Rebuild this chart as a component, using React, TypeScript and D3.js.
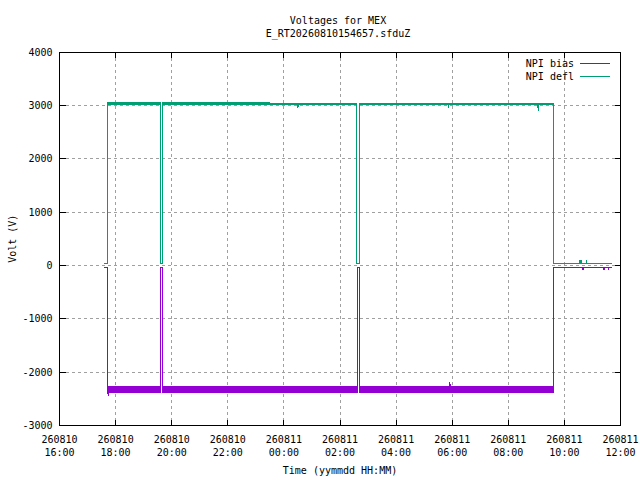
import React from 'react';
import * as d3 from 'd3';

// time stamps are yymmdd HH:MM, values in volts
const biasTime = [
  '260810 17:35', '260810 17:43', '260810 17:43', '260810 17:44', '260810 17:45',
  '260810 19:36', '260810 19:36', '260810 19:40', '260810 19:40',
  '260811 02:37', '260811 02:37', '260811 02:41', '260811 02:41',
  '260811 05:54', '260811 05:55', '260811 05:56',
  '260811 09:36', '260811 09:36',
  '260811 10:39', '260811 10:40', '260811 10:41',
  '260811 11:24', '260811 11:25', '260811 11:26',
  '260811 11:33', '260811 11:34', '260811 11:35', '260811 11:41',
];
const biasLow = [
  -43, -43, -2300, -2449, -2374,
  -2374, -43, -43, -2374,
  -2374, -43, -43, -2374,
  -2374, -2374, -2374,
  -2374, -43,
  -43, -88, -43,
  -43, -88, -43,
  -43, -88, -43, -43,
];
const biasHigh = [
  -43, -43, -2268, -2268, -2268,
  -2268, -43, -43, -2268,
  -2268, -43, -43, -2268,
  -2268, -2193, -2268,
  -2268, -43,
  -43, -43, -43,
  -43, -43, -43,
  -43, -43, -43, -43,
];

const deflTime = [
  '260810 17:35', '260810 17:43', '260810 17:43',
  '260810 19:35', '260810 19:35', '260810 19:37', '260810 19:37', '260810 19:40', '260810 19:40',
  '260810 23:30', '260810 23:31',
  '260811 00:29', '260811 00:30', '260811 00:31',
  '260811 02:36', '260811 02:36', '260811 02:41', '260811 02:41',
  '260811 05:51', '260811 05:52', '260811 05:53',
  '260811 09:03', '260811 09:04', '260811 09:05',
  '260811 09:36', '260811 09:36',
  '260811 10:33', '260811 10:33', '260811 10:37', '260811 10:37',
  '260811 10:46', '260811 10:47', '260811 10:48', '260811 11:41',
];
const deflLow = [
  32, 32, 3010,
  3010, 206, 206, 32, 32, 3010,
  3010, 3025,
  3025, 2961, 3025,
  3025, 32, 32, 3025,
  3025, 2961, 3025,
  3025, 2892, 3025,
  3025, 32,
  32, 32, 32, 32,
  32, 32, 32, 32,
];
const deflHigh = [
  32, 32, 3045,
  3045, 206, 206, 32, 32, 3045,
  3045, 3040,
  3040, 3040, 3040,
  3040, 32, 32, 3040,
  3040, 3040, 3040,
  3040, 3040, 3040,
  3040, 32,
  32, 94, 94, 32,
  32, 94, 32, 32,
];

const yTicks = [-3000, -2000, -1000, 0, 1000, 2000, 3000, 4000];
const xTickDates = [
  '260810 16:00', '260810 18:00', '260810 20:00', '260810 22:00', '260811 00:00', '260811 02:00',
  '260811 04:00', '260811 06:00', '260811 08:00', '260811 10:00', '260811 12:00',
];

const seriesNames = ['NPI bias', 'NPI defl'];
const seriesColors = ['#9400d3', '#009e73'];

const parse = d3.timeParse('%y%m%d %H:%M');
const font = '"DejaVu Sans Mono", monospace';

const App: React.FC = () => {
  const width = 640;
  const height = 480;
  const left = 59.5;
  const right = 620.5;
  const top = 52;
  const bottom = 425.5;

  const x = d3.scaleTime()
    .domain([parse(xTickDates[0])!, parse(xTickDates[xTickDates.length - 1])!])
    .range([left, right]);
  const y = d3.scaleLinear().domain([-3000, 4000]).range([bottom, top]);

  const makeSeries = (times: string[], lo: number[], hi: number[]) =>
    times.map((t, i) => ({ t: parse(t)!, lo: lo[i], hi: hi[i] }));

  const series = [
    makeSeries(biasTime, biasLow, biasHigh),
    makeSeries(deflTime, deflLow, deflHigh),
  ];

  type P = { t: Date; lo: number; hi: number };
  const area = d3.area<P>().x((d) => x(d.t)).y0((d) => y(d.lo)).y1((d) => y(d.hi));
  const lineLo = d3.line<P>().x((d) => x(d.t)).y((d) => y(d.lo));
  const lineHi = d3.line<P>().x((d) => x(d.t)).y((d) => y(d.hi));

  const xTicks = xTickDates.map((s) => parse(s)!);
  const fmtDay = d3.timeFormat('%y%m%d');
  const fmtHour = d3.timeFormat('%H:%M');
  const tickLen = 6;

  return (
    <div style={{ position: 'fixed', left: 0, top: 0 }}>
      <svg width={width} height={height} style={{ display: 'block', background: '#fff' }}>
        {/* grid */}
        <g stroke="#a0a0a0" strokeDasharray="3,3" shapeRendering="crispEdges">
          {yTicks.slice(1, -1).map((v) => (
            <line key={'gy' + v} x1={left} x2={right} y1={y(v)} y2={y(v)} />
          ))}
          {xTicks.slice(1, -1).map((d, i) => (
            <line key={'gx' + i} x1={x(d)} x2={x(d)} y1={top} y2={bottom} />
          ))}
        </g>

        {/* data */}
        {series.map((s, i) => (
          <g key={seriesNames[i]} shapeRendering="crispEdges">
            <path d={area(s) || ''} fill={seriesColors[i]} />
            <path d={lineLo(s) || ''} fill="none" stroke={seriesColors[i]} strokeWidth={1} />
            <path d={lineHi(s) || ''} fill="none" stroke={seriesColors[i]} strokeWidth={1} />
          </g>
        ))}

        {/* ticks + border */}
        <g stroke="#000" shapeRendering="crispEdges">
          {yTicks.map((v) => (
            <g key={'ty' + v}>
              <line x1={left} x2={left + tickLen} y1={y(v)} y2={y(v)} />
              <line x1={right - tickLen} x2={right} y1={y(v)} y2={y(v)} />
            </g>
          ))}
          {xTicks.map((d, i) => (
            <g key={'tx' + i}>
              <line x1={x(d)} x2={x(d)} y1={bottom} y2={bottom - tickLen} />
              <line x1={x(d)} x2={x(d)} y1={top} y2={top + tickLen} />
            </g>
          ))}
          <rect x={left} y={top} width={right - left} height={bottom - top} fill="none" />
        </g>

        {/* labels */}
        <g fontFamily={font} fontSize={10} fill="#000">
          {yTicks.map((v) => (
            <text key={'ly' + v} x={left - 7} y={y(v)} dy="0.35em" textAnchor="end">{v}</text>
          ))}
          {xTicks.map((d, i) => (
            <text key={'lx' + i} x={x(d)} textAnchor="middle">
              <tspan x={x(d)} y={443}>{fmtDay(d)}</tspan>
              <tspan x={x(d)} y={456}>{fmtHour(d)}</tspan>
            </text>
          ))}
          <text x={(left + right) / 2} y={474} textAnchor="middle">Time (yymmdd HH:MM)</text>
          <text transform={`translate(16,${(top + bottom) / 2}) rotate(-90)`} textAnchor="middle">Volt (V)</text>
          <text x={(left + right) / 2 - 2} y={24} textAnchor="middle">Voltages for MEX</text>
          <text x={(left + right) / 2 - 2} y={37} textAnchor="middle">E_RT20260810154657.sfduZ</text>
          {seriesNames.map((n, i) => (
            <g key={'lg' + n}>
              <text x={574} y={63 + i * 13} dy="0.35em" textAnchor="end">{n}</text>
              <line x1={580} x2={610} y1={63 + i * 13} y2={63 + i * 13}
                stroke={seriesColors[i]} shapeRendering="crispEdges" />
            </g>
          ))}
        </g>
      </svg>
    </div>
  );
};

export default App;
